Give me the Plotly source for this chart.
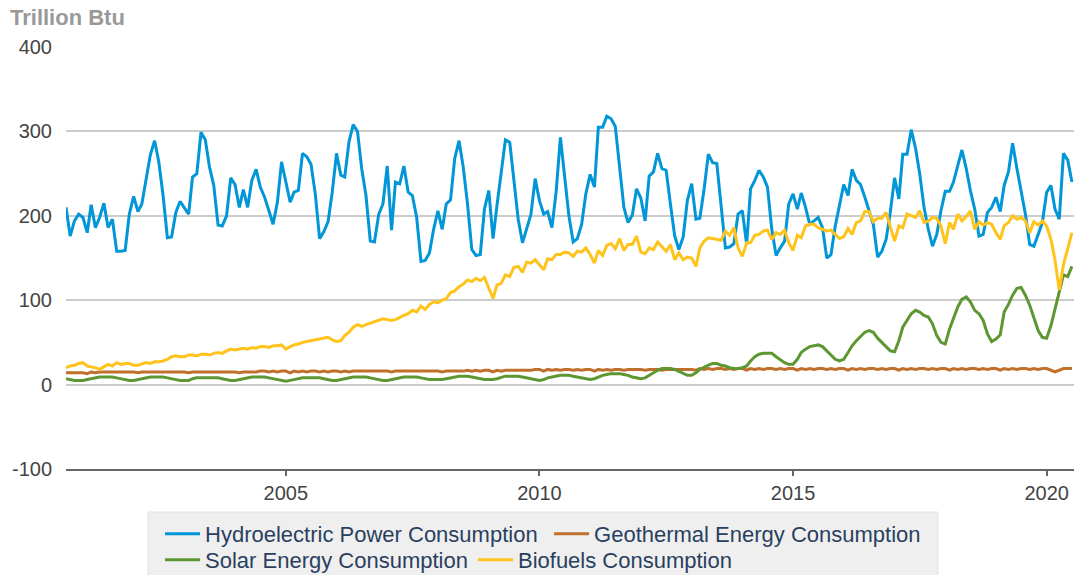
import plotly.graph_objects as go
import pandas as pd

# Monthly values, Sep 2000 - Jul 2020 (trillion Btu), one row per calendar year
hydro = [
    210, 176, 194, 202,
    198, 180, 213, 186, 198, 215, 186, 196, 158, 158, 159, 202,
    223, 205, 214, 246, 272, 289, 264, 224, 174, 175, 204, 217,
    210, 202, 246, 250, 299, 290, 258, 236, 189, 188, 200, 245,
    237, 210, 231, 210, 242, 255, 234, 222, 206, 190, 216, 264,
    240, 216, 228, 230, 274, 270, 261, 226, 173, 181, 193, 228,
    274, 248, 246, 288, 308, 300, 256, 224, 170, 169, 202, 214,
    259, 183, 240, 238, 259, 228, 224, 198, 146, 147, 156, 184,
    206, 184, 214, 219, 268, 289, 258, 214, 160, 153, 154, 208,
    230, 173, 212, 252, 290, 287, 240, 196, 168, 185, 202, 244,
    218, 202, 205, 186, 228, 293, 248, 200, 169, 173, 190, 226,
    249, 234, 305, 305, 318, 315, 306, 258, 210, 192, 201, 232,
    221, 194, 247, 252, 274, 256, 254, 214, 176, 160, 175, 218,
    238, 196, 197, 232, 273, 263, 262, 212, 162, 163, 167, 202,
    206, 166, 232, 242, 254, 246, 234, 184, 153, 162, 170, 214,
    226, 208, 227, 210, 190, 194, 198, 186, 150, 154, 188, 212,
    237, 224, 255, 242, 237, 222, 206, 190, 151, 158, 172, 204,
    245, 220, 273, 273, 302, 280, 250, 210, 184, 164, 178, 206,
    229, 229, 240, 258, 278, 256, 230, 208, 176, 178, 204, 210,
    222, 205, 236, 252, 286, 256, 228, 202, 166, 164, 178, 192,
    228, 236, 208, 196, 274, 266, 240,
]

geothermal = [
    14, 14, 14, 14,
    14, 13, 15, 14, 15, 15, 15, 15, 15, 15, 15, 15,
    15, 14, 15, 15, 15, 15, 15, 15, 15, 15, 15, 15,
    15, 14, 15, 15, 15, 15, 15, 15, 15, 15, 15, 15,
    15, 14, 15, 15, 15, 15, 16, 16, 15, 16, 15, 16,
    16, 14, 16, 15, 16, 15, 16, 16, 15, 16, 15, 16,
    16, 15, 16, 15, 16, 16, 16, 16, 16, 16, 16, 16,
    16, 15, 16, 16, 16, 16, 16, 16, 16, 16, 16, 16,
    16, 15, 16, 16, 16, 16, 16, 17, 16, 17, 16, 17,
    17, 15, 17, 16, 17, 17, 17, 17, 17, 17, 17, 18,
    18, 16, 18, 17, 18, 17, 18, 18, 17, 18, 17, 18,
    18, 16, 18, 17, 18, 17, 18, 18, 17, 18, 18, 18,
    18, 17, 18, 18, 18, 17, 18, 18, 18, 18, 18, 18,
    18, 17, 19, 18, 19, 18, 19, 19, 18, 19, 18, 19,
    19, 17, 19, 18, 19, 18, 19, 19, 18, 19, 18, 19,
    19, 17, 19, 18, 19, 18, 19, 19, 18, 19, 18, 19,
    19, 17, 19, 18, 19, 18, 19, 19, 18, 19, 18, 19,
    19, 17, 19, 18, 19, 18, 19, 19, 18, 19, 18, 19,
    19, 17, 19, 18, 19, 18, 19, 19, 18, 19, 18, 19,
    19, 17, 19, 18, 19, 18, 19, 19, 18, 19, 18, 19,
    19, 17, 15, 17, 19, 19, 19,
]

solar = [
    7, 6, 5, 5,
    5, 6, 7, 8, 9, 9, 9, 9, 8, 7, 6, 5,
    5, 6, 7, 8, 9, 9, 9, 9, 8, 7, 6, 5,
    5, 5, 7, 8, 8, 8, 8, 8, 8, 7, 6, 5,
    5, 6, 7, 8, 9, 9, 9, 9, 8, 7, 6, 5,
    4, 5, 6, 7, 8, 8, 8, 8, 8, 7, 6, 5,
    5, 6, 7, 8, 9, 9, 9, 9, 8, 7, 6, 5,
    5, 6, 7, 8, 9, 9, 9, 9, 8, 7, 6, 6,
    6, 6, 7, 8, 9, 10, 10, 10, 9, 8, 7, 6,
    6, 6, 7, 9, 10, 10, 10, 10, 9, 8, 7, 6,
    5, 6, 8, 9, 10, 11, 11, 11, 10, 9, 8, 7,
    6, 7, 9, 11, 12, 13, 13, 13, 12, 11, 9, 8,
    7, 8, 11, 14, 17, 19, 19, 19, 18, 16, 13, 11,
    11, 14, 18, 21, 23, 25, 25, 23, 22, 20, 19, 19,
    20, 22, 28, 33, 36, 37, 37, 37, 33, 29, 26, 24,
    24, 30, 38, 42, 45, 46, 47, 45, 40, 34, 30, 28,
    30, 38, 46, 52, 57, 62, 64, 62, 55, 50, 44, 40,
    39, 52, 68, 76, 84, 88, 86, 82, 80, 72, 58, 50,
    48, 66, 78, 92, 101, 104, 98, 88, 84, 76, 60, 51,
    54, 59, 86, 95, 106, 114, 115, 106, 94, 78, 64, 56,
    55, 70, 90, 112, 130, 128, 140,
]

biofuels = [
    20, 22, 23, 25,
    26, 22, 21, 20, 18, 21, 24, 22, 26, 24, 25, 25,
    23, 23, 24, 26, 25, 27, 27, 28, 30, 33, 34, 33,
    33, 35, 35, 34, 36, 36, 35, 37, 38, 37, 40, 42,
    41, 42, 43, 42, 44, 43, 45, 45, 44, 46, 46, 47,
    42, 45, 47, 48, 50, 51, 52, 53, 54, 55, 56, 53,
    51, 52, 58, 62, 68, 71, 69, 71, 73, 74, 76, 78,
    77, 76, 77, 80, 82, 84, 88, 86, 93, 89, 95, 98,
    97, 100, 102, 109, 111, 116, 119, 124, 122, 126, 123, 127,
    114, 102, 118, 120, 130, 128, 139, 140, 133, 145, 144, 148,
    142, 136, 149, 148, 154, 154, 157, 156, 152, 158, 157, 162,
    154, 144, 159, 153, 165, 167, 161, 173, 159, 166, 166, 176,
    157, 155, 162, 160, 169, 164, 158, 166, 148, 156, 148, 151,
    150, 140, 162, 170, 174, 173, 172, 171, 182, 177, 186, 162,
    152, 168, 168, 177, 178, 182, 183, 172, 180, 178, 183, 168,
    159, 177, 174, 188, 190, 190, 186, 184, 182, 183, 178, 173,
    175, 185, 178, 192, 194, 205, 205, 193, 197, 197, 204, 188,
    170, 188, 186, 202, 200, 198, 206, 192, 194, 198, 197, 188,
    167, 192, 184, 202, 194, 199, 206, 184, 193, 189, 192, 190,
    180, 172, 188, 192, 200, 196, 198, 194, 180, 193, 189, 194,
    188, 172, 148, 112, 142, 162, 180,
]

names = [
    "Hydroelectric Power Consumption",
    "Geothermal Energy Consumption",
    "Solar Energy Consumption",
    "Biofuels Consumption",
]
colors = ["#0096d7", "#c0702c", "#5d9732", "#ffc31b"]
# first two entries on the first legend row, the other two on the second
legend_rows = ["legend", "legend", "legend2", "legend2"]

y_ticks = [-100, 0, 100, 200, 300, 400]
y_labels = ["-100", "0", "100", "200", "300", "400"]

series = [hydro, geothermal, solar, biofuels]
for s in series:
    assert len(s) == len(hydro), len(s)

months = pd.date_range("2000-09-01", periods=len(hydro), freq="MS")

fig = go.Figure()
for name, vals, col, leg in zip(names, series, colors, legend_rows):
    fig.add_trace(go.Scatter(
        x=months,
        y=vals,
        mode="lines",
        name=name,
        legend=leg,
        line=dict(color=col, width=3),
    ))

legend_style = dict(
    orientation="h",
    xanchor="left",
    yanchor="top",
    bgcolor="rgba(0,0,0,0)",
    borderwidth=0,
    itemwidth=35,
    font=dict(size=22, color="#2a3f5f"),
)

# grey box behind the two legend rows
fig.add_shape(
    type="rect",
    xref="paper", yref="paper",
    x0=0.0813, x1=0.865, y0=-0.28, y1=-0.102,
    fillcolor="#efefef",
    line=dict(color="#e2e2e2", width=1),
    layer="below",
)

fig.update_layout(
    width=1074,
    height=575,
    margin=dict(l=66, r=0, t=47, b=106, autoexpand=False),
    plot_bgcolor="white",
    paper_bgcolor="white",
    font=dict(family="Liberation Sans, Arial, sans-serif", size=20, color="#444"),
    title=dict(
        text="<b>Trillion Btu</b>",
        x=0.0093, xanchor="left",
        y=0.970, yanchor="middle",
        font=dict(size=22, color="#999999"),
    ),
    legend=dict(legend_style, x=0.0933, y=-0.104, entrywidth=339),
    legend2=dict(legend_style, x=0.0933, y=-0.166),
    showlegend=True,
)

fig.update_xaxes(
    range=["2000-09-01", "2020-07-16"],
    tick0="2005-01-01",
    dtick="M60",
    tickformat="%Y",
    showgrid=False,
    showline=True,
    linecolor="#666",
    linewidth=2,
    ticks="outside",
    ticklen=5,
    tickwidth=2,
    tickcolor="#666",
)

fig.update_yaxes(
    range=[-100, 400],
    tickvals=y_ticks,
    ticktext=y_labels,
    showgrid=True,
    gridcolor="#cccccc",
    gridwidth=2,
    zeroline=False,
    showline=False,
    ticklabelstandoff=13,
)

# drop the default page margin so the figure fills the window exactly
fig.write_html(
    "out.html",
    config={"displayModeBar": False},
    post_script="document.body.style.margin='0px';document.body.style.overflow='hidden';",
)
